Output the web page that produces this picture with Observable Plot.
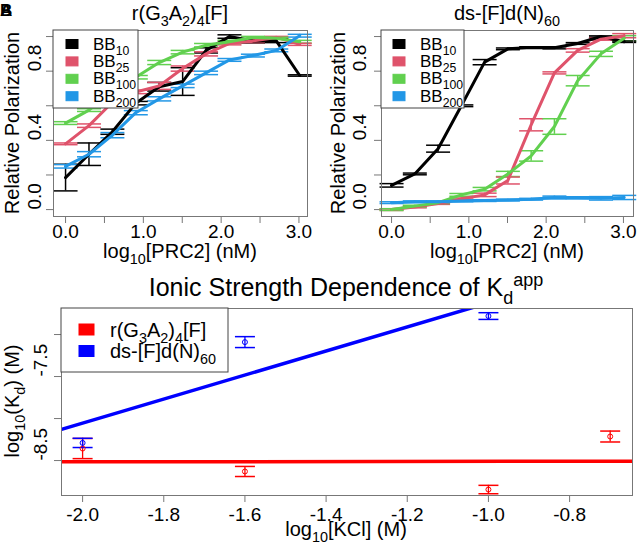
<!DOCTYPE html>
<html><head><meta charset="utf-8">
<script src="https://cdn.jsdelivr.net/npm/d3@7"></script>
<script src="https://cdn.jsdelivr.net/npm/@observablehq/plot@0.6"></script>
<style>
body{margin:0;background:#fff;}
#root{position:relative;width:638px;height:544px;font-family:"Liberation Sans",Arial,Helvetica,sans-serif;}
#root svg{position:absolute;overflow:visible;}
</style></head><body><div id="root"></div>
<script>
// ---------- data ----------
const concLog = [0, 0.301, 0.602, 0.903, 1.204, 1.505, 1.806, 2.107, 2.408, 2.709, 3.010];
const series = ["BB10", "BB25", "BB100", "BB200"];
const seriesSubs = ["10", "25", "100", "200"];
const seriesColors = ["#000000", "#DF536B", "#61D04F", "#2297E6"];

// r(G3A2)4[F]
const rnaBB10 = [0.185, 0.32, 0.45, 0.615, 0.71, 0.74, 0.92, 1.0, 0.975, 0.975, 0.775];
const rnaBB10err = [0.077, 0.065, 0.015, 0.01, 0.025, 0.08, 0.015, 0.01, 0.012, 0.01, 0.004];
const rnaBB25 = [0.38, 0.485, 0.62, 0.68, 0.715, 0.815, 0.9, 0.96, 0.975, 0.995, 0.955];
const rnaBB25err = [0.005, 0.01, 0.01, 0.01, 0.02, 0.015, 0.012, 0.008, 0.01, 0.006, 0.006];
const rnaBB100 = [0.5, 0.575, 0.68, 0.765, 0.85, 0.91, 0.95, 0.97, 0.995, 0.99, 0.97];
const rnaBB100err = [0.008, 0.008, 0.01, 0.01, 0.012, 0.01, 0.01, 0.008, 0.006, 0.006, 0.008];
const rnaBB200 = [0.25, 0.32, 0.43, 0.56, 0.64, 0.715, 0.79, 0.865, 0.89, 0.92, 1.005];
const rnaBB200err = [0.01, 0.015, 0.015, 0.012, 0.012, 0.01, 0.01, 0.008, 0.008, 0.008, 0.008];

// ds-[F]d(N)60
const dsBB10 = [0.14, 0.206, 0.352, 0.6, 0.852, 0.929, 0.937, 0.935, 0.96, 1.0, 0.97];
const dsBB10err = [0.01, 0.005, 0.02, 0.005, 0.015, 0.005, 0.004, 0.006, 0.005, 0.004, 0.004];
const dsBB25 = [0.0, 0.015, 0.035, 0.062, 0.085, 0.168, 0.49, 0.79, 0.92, 0.985, 1.005];
const dsBB25err = [0.005, 0.005, 0.005, 0.005, 0.01, 0.02, 0.035, 0.006, 0.01, 0.006, 0.012];
const dsBB100 = [0.0, 0.02, 0.04, 0.085, 0.118, 0.206, 0.31, 0.48, 0.745, 0.9, 0.99];
const dsBB100err = [0.005, 0.005, 0.005, 0.008, 0.01, 0.015, 0.03, 0.045, 0.03, 0.015, 0.015];
const dsBB200 = [0.04, 0.045, 0.045, 0.05, 0.052, 0.055, 0.06, 0.07, 0.068, 0.065, 0.07];
const dsBB200err = [0.005, 0.005, 0.005, 0.005, 0.005, 0.005, 0.005, 0.008, 0.006, 0.01, 0.012];

// Ionic strength dependence
const kclLog = [-2.0, -1.6, -1.0, -0.7];
const rnaKd = [-8.357, -8.63, -8.845, -8.214];
const rnaKdErr = [0.12, 0.06, 0.05, 0.065];
const dsKclLog = [-2.0, -1.6, -1.0];
const dsKd = [-8.29, -7.09, -6.78];
const dsKdErr = [0.055, 0.065, 0.04];
const kdSeries = ["r(G3A2)4[F]", "ds-[F]d(N)60"];
const kdColors = ["#FF0000", "#0000FF"];

const pTicksX = [0, 0.5, 1, 1.5, 2, 2.5, 3];
const pLabelsX = [0, 1, 2, 3];
const pTicksY = [0, 0.2, 0.4, 0.6, 0.8, 1.0];
const pLabelsY = [0, 0.4, 0.8];
const kTicksX = [-2.0, -1.8, -1.6, -1.4, -1.2, -1.0, -0.8];
const kTicksY = [-7.0, -7.5, -8.0, -8.5];
const kLabelsY = [-7.5, -8.5];

// ---------- helpers ----------
const FONT = '"Liberation Sans", Arial, Helvetica, sans-serif';
const root = document.getElementById("root");
const fmt1 = d => d3.format(".1f")(d).replace("\u2212", "-");
function rowsOf(vals, errs) {
  const out = [];
  vals.forEach((v, si) => v.forEach((y, i) => out.push({series: series[si], x: concLog[i], y, err: errs[si][i]})));
  return out;
}
const hbar = {draw(ctx, size) { const r = Math.sqrt(size / Math.PI); ctx.moveTo(-r, 0); ctx.lineTo(r, 0); }};
function rich(sel, parts, fs) {
  let cur = 0;
  for (const [t, m] of parts) {
    const target = m === 1 ? 0.3 * fs : m === 2 ? -0.42 * fs : 0;
    const ts = sel.append("tspan").text(t).attr("dy", target - cur);
    if (m) ts.attr("font-size", 0.72 * fs);
    cur = target;
  }
}
function addText(svg, x, y, parts, fs, opts = {}) {
  const t = d3.select(svg).append("text")
    .attr("font-family", FONT).attr("font-size", fs).attr("fill", "#000")
    .attr("text-anchor", opts.anchor || "middle")
    .attr("font-weight", opts.weight || "normal")
    .attr("transform", `translate(${x},${y})` + (opts.rotate ? ` rotate(${opts.rotate})` : ""));
  rich(t, parts, fs);
  return t;
}
function place(svg, left, top) { svg.style.left = left + "px"; svg.style.top = top + "px"; root.appendChild(svg); }

function curvePanel(rows, o) {
  return Plot.plot({
    width: o.width, height: 270,
    marginLeft: o.ml, marginRight: o.mr, marginTop: 30, marginBottom: 54,
    x: {domain: o.xDomain, label: null},
    y: {domain: [-0.04, 1.035], label: null},
    color: {domain: series, range: seriesColors},
    style: {fontFamily: FONT, fontSize: "19px", color: "#000", background: "transparent", overflow: "visible"},
    marks: [
      Plot.axisX({ticks: pTicksX, tickSize: 7, stroke: "#777", fill: "none"}),
      Plot.axisX({ticks: pLabelsX, tickSize: 0, tickPadding: 7.5, tickFormat: fmt1, fontSize: 19, label: null}),
      Plot.axisY({ticks: pTicksY, tickSize: 7, stroke: "#777", fill: "none"}),
      Plot.text(pLabelsY, {y: d => d, text: fmt1, frameAnchor: "left", rotate: -90, dx: o.ydx, fontSize: 19, fill: "#000"}),
      Plot.ruleX(rows, {x: "x", y1: d => d.y - d.err, y2: d => d.y + d.err, stroke: "series", strokeWidth: 1.5}),
      Plot.dot(rows, {x: "x", y: d => d.y - d.err, symbol: hbar, r: 12, stroke: "series", strokeWidth: 1.5}),
      Plot.dot(rows, {x: "x", y: d => d.y + d.err, symbol: hbar, r: 12, stroke: "series", strokeWidth: 1.5}),
      Plot.line(rows, {x: "x", y: "y", z: "series", stroke: "series", strokeWidth: 3}),
      Plot.frame({stroke: "#777"})
    ]
  });
}
function curveLegend(svg, x0, x1, symX, textX) {
  const g = d3.select(svg).append("g");
  g.append("rect").attr("x", x0).attr("y", 30).attr("width", x1 - x0).attr("height", 78)
    .attr("fill", "#fff").attr("stroke", "#444").attr("stroke-width", 1);
  series.forEach((s, i) => {
    const cy = 44 + i * 17.4;
    g.append("rect").attr("x", symX - 6).attr("y", cy - 4.5).attr("width", 12).attr("height", 9)
      .attr("fill", seriesColors[i]).attr("stroke", seriesColors[i]).attr("stroke-width", 1);
    const t = g.append("text").attr("x", textX).attr("y", cy + 5.5).attr("text-anchor", "start")
      .attr("font-family", FONT).attr("font-size", 17).attr("fill", "#000");
    rich(t, [["BB", 0], [seriesSubs[i], 1]], 17);
  });
}

// ---------- panel A ----------
const rowsA = rowsOf([rnaBB10, rnaBB25, rnaBB100, rnaBB200], [rnaBB10err, rnaBB25err, rnaBB100err, rnaBB200err]);
const svgA = curvePanel(rowsA, {width: 319, ml: 53, mr: 12, xDomain: [-0.155, 3.11], ydx: -19});
curveLegend(svgA, 53, 138, 72, 93);
addText(svgA, 180, 20, [["r(G", 0], ["3", 1], ["A", 0], ["2", 1], [")", 0], ["4", 1], ["[F]", 0]], 20);
addText(svgA, 19, 123, [["Relative Polarization", 0]], 20, {rotate: -90});
addText(svgA, 180, 258, [["log", 0], ["10", 1], ["[PRC2] (nM)", 0]], 20);
addText(svgA, 0, 16, [["B", 0]], 17, {anchor: "start", weight: "bold"});
addText(svgA, 0, 16, [["A", 0]], 17, {anchor: "start", weight: "bold"});
place(svgA, 0, 0);

// ---------- panel B ----------
const rowsB = rowsOf([dsBB10, dsBB25, dsBB100, dsBB200], [dsBB10err, dsBB25err, dsBB100err, dsBB200err]);
const svgB = curvePanel(rowsB, {width: 320, ml: 63, mr: 5, xDomain: [-0.13, 3.13], ydx: -22});
curveLegend(svgB, 63, 146, 81, 102);
addText(svgB, 189, 20, [["ds-[F]d(N)", 0], ["60", 1]], 20);
addText(svgB, 27, 123, [["Relative Polarization", 0]], 20, {rotate: -90});
addText(svgB, 189, 258, [["log", 0], ["10", 1], ["[PRC2] (nM)", 0]], 20);
place(svgB, 318, 0);

// ---------- panel C ----------
const kdRows = [
  ...kclLog.map((x, i) => ({series: kdSeries[0], x, y: rnaKd[i], err: rnaKdErr[i]})),
  ...dsKclLog.map((x, i) => ({series: kdSeries[1], x, y: dsKd[i], err: dsKdErr[i]}))
];
const xDomC = [-2.052, -0.645];
function fit(xs, ys) {
  const mx = d3.mean(xs), my = d3.mean(ys);
  const b = d3.sum(xs, (x, i) => (x - mx) * (ys[i] - my)) / d3.sum(xs, x => (x - mx) ** 2);
  return {a: my - b * mx, b};
}
const fits = [fit(kclLog, rnaKd), fit(dsKclLog, dsKd)];
const fitRows = fits.flatMap((f, i) => xDomC.map(x => ({series: kdSeries[i], x, y: f.a + f.b * x})));

const svgC = Plot.plot({
  width: 638, height: 274,
  marginLeft: 61, marginRight: 6, marginTop: 38, marginBottom: 49,
  x: {domain: xDomC, label: null},
  y: {domain: [-8.916, -6.69], label: null},
  color: {domain: kdSeries, range: kdColors},
  style: {fontFamily: FONT, fontSize: "19px", color: "#000", background: "transparent", overflow: "visible"},
  marks: [
    Plot.axisX({ticks: kTicksX, tickSize: 7, stroke: "#777", fill: "none"}),
    Plot.axisX({ticks: kTicksX, tickSize: 0, tickPadding: 11.5, tickFormat: fmt1, fontSize: 19, label: null}),
    Plot.axisY({ticks: kTicksY, tickSize: 7, stroke: "#777", fill: "none"}),
    Plot.text(kLabelsY, {y: d => d, text: fmt1, frameAnchor: "left", rotate: -90, dx: -21, fontSize: 19, fill: "#000"}),
    Plot.line(fitRows, {x: "x", y: "y", z: "series", stroke: "series", strokeWidth: 3.5, clip: true}),
    Plot.ruleX(kdRows, {x: "x", y1: d => d.y - d.err, y2: d => d.y + d.err, stroke: "series", strokeWidth: 1.3}),
    Plot.dot(kdRows, {x: "x", y: d => d.y - d.err, symbol: hbar, r: 10, stroke: "series", strokeWidth: 1.5}),
    Plot.dot(kdRows, {x: "x", y: d => d.y + d.err, symbol: hbar, r: 10, stroke: "series", strokeWidth: 1.5}),
    Plot.dot(kdRows, {x: "x", y: "y", r: 2.5, stroke: "series", strokeWidth: 1, fill: "none"}),
    Plot.frame({stroke: "#777"})
  ]
});
{
  const g = d3.select(svgC).append("g");
  g.append("rect").attr("x", 61).attr("y", 38).attr("width", 167).attr("height", 64)
    .attr("fill", "#fff").attr("stroke", "#444");
  const labs = [[["r(G", 0], ["3", 1], ["A", 0], ["2", 1], [")", 0], ["4", 1], ["[F]", 0]], [["ds-[F]d(N)", 0], ["60", 1]]];
  labs.forEach((p, i) => {
    const cy = 59.5 + i * 21.5;
    g.append("rect").attr("x", 79).attr("y", cy - 5.5).attr("width", 15).attr("height", 11).attr("fill", kdColors[i]).attr("stroke", kdColors[i]);
    const t = g.append("text").attr("x", 110).attr("y", cy + 7).attr("text-anchor", "start")
      .attr("font-family", FONT).attr("font-size", 20).attr("fill", "#000");
    rich(t, p, 20);
  });
}
addText(svgC, 346, 26, [["Ionic Strength Dependence of K", 0], ["d", 1], ["app", 2]], 25);
addText(svgC, 19, 131, [["log", 0], ["10", 1], ["(K", 0], ["d", 1], [") (M)", 0]], 20, {rotate: -90});
addText(svgC, 346, 266, [["log", 0], ["10", 1], ["[KCl] (M)", 0]], 20);
place(svgC, 0, 270);
</script></body></html>
